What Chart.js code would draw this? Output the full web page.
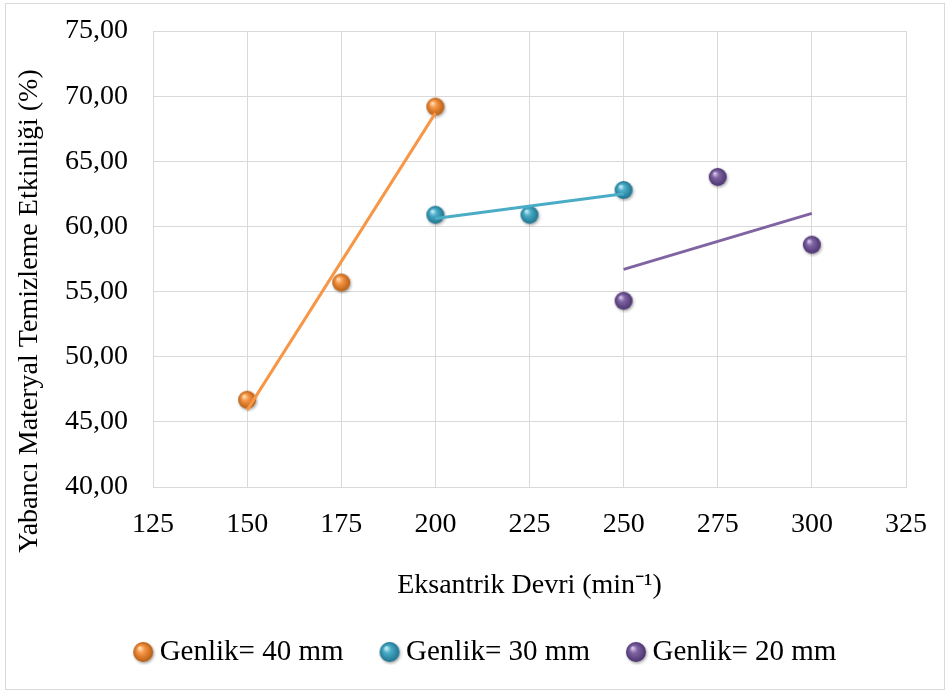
<!DOCTYPE html>
<html>
<head>
<meta charset="utf-8">
<style>
  html, body { margin: 0; padding: 0; background: #ffffff; }
  #wrap { position: relative; width: 950px; height: 693px; }
  #frame { position: absolute; left: 5px; top: 3px; width: 938px; height: 685px; border: 1px solid #d9d9d9; pointer-events: none; }
</style>
</head>
<body>
<div id="wrap">
  <canvas id="chart" width="950" height="693"></canvas>
  <div id="frame"></div>
</div>
<script src="https://cdn.jsdelivr.net/npm/chart.js"></script>
<script>
// data
const seriesNames = ['Genlik= 40 mm', 'Genlik= 30 mm', 'Genlik= 20 mm'];
const g40X = [150, 175, 200];
const g40Y = [46.7, 55.7, 69.2];
const g30X = [200, 225, 250];
const g30Y = [60.9, 60.9, 62.8];
const g20X = [250, 275, 300];
const g20Y = [54.3, 63.8, 58.6];

// trend line end points (as drawn in the reference)
const t40X = [150, 200];
const t40Y = [45.9, 68.7];
const t30X = [200, 250];
const t30Y = [60.6, 62.5];
const t20X = [250, 300];
const t20Y = [56.7, 61.0];

const xTicks = [125, 150, 175, 200, 225, 250, 275, 300, 325];
const yTicks = [40, 45, 50, 55, 60, 65, 70, 75];

const xTitle = 'Eksantrik Devri (min⁻¹)';
const yTitle = 'Yabancı Materyal Temizleme Etkinliği (%)';

const colors = ['#F79646', '#4BACC6', '#8064A2'];
const darkColors = ['#B85E12', '#1E7490', '#4B3470'];
const lightColors = ['#FFE2C0', '#C8F0FA', '#D8C8EE'];

function pts(xs, ys) { return xs.map((x, i) => ({ x: x, y: ys[i] })); }

// glossy sphere marker
function sphere(i, d) {
  const pad = 3;
  const c = document.createElement('canvas');
  c.width = d + pad * 2; c.height = d + pad * 2;
  const g = c.getContext('2d');
  const cx = c.width / 2, cy = c.height / 2, r = d / 2;
  g.save();
  g.shadowColor = 'rgba(0,0,0,0.35)';
  g.shadowBlur = 3;
  g.shadowOffsetX = 1;
  g.shadowOffsetY = 1.5;
  const grad = g.createRadialGradient(cx - r * 0.35, cy - r * 0.4, r * 0.05, cx, cy, r);
  grad.addColorStop(0, lightColors[i]);
  grad.addColorStop(0.35, colors[i]);
  grad.addColorStop(1, darkColors[i]);
  g.fillStyle = grad;
  g.beginPath(); g.arc(cx, cy, r, 0, Math.PI * 2); g.fill();
  g.restore();
  return c;
}

const markers = [0, 1, 2].map(i => sphere(i, 18));
const legendMarkers = [0, 1, 2].map(i => sphere(i, 20));

function fmt(v) { return v.toFixed(2).replace('.', ','); }

const pointSets = [pts(g40X, g40Y), pts(g30X, g30Y), pts(g20X, g20Y)];
const trendSets = [pts(t40X, t40Y), pts(t30X, t30Y), pts(t20X, t20Y)];

const datasets = [];
pointSets.forEach((d, i) => {
  datasets.push({
    label: seriesNames[i],
    data: d,
    showLine: false,
    pointStyle: markers[i],
    backgroundColor: colors[i],
    borderColor: colors[i],
    order: 2
  });
});
trendSets.forEach((d, i) => {
  datasets.push({
    label: 'trend' + i,
    data: d,
    showLine: true,
    pointRadius: 0,
    borderColor: colors[i],
    borderWidth: 3,
    fill: false,
    order: 1
  });
});

const serif = "'Liberation Serif', 'Times New Roman', serif";

// y title centred like the reference (not on the plot area),
// legend nudged right so the items sit where the reference has them
const extrasPlugin = {
  id: 'extras',
  afterLayout(chart) {
    chart.legend.left = 71.5;
  },
  afterDraw(chart) {
    const ctx = chart.ctx;
    ctx.save();
    ctx.translate(30, 311);
    ctx.rotate(-Math.PI / 2);
    ctx.font = '28px ' + serif;
    ctx.fillStyle = '#000000';
    ctx.textAlign = 'center';
    ctx.textBaseline = 'middle';
    ctx.fillText(yTitle, 0, 0);
    ctx.restore();
  }
};

new Chart(document.getElementById('chart'), {
  type: 'scatter',
  data: { datasets: datasets },
  plugins: [extrasPlugin],
  options: {
    responsive: false,
    animation: false,
    layout: { padding: { left: 14, right: 44, top: 31, bottom: 16.5 } },
    plugins: {
      tooltip: { enabled: false },
      legend: {
        position: 'bottom',
        labels: {
          color: '#000000',
          font: { family: serif, size: 29 },
          usePointStyle: true,
          padding: 44,
          boxWidth: 4,
          boxHeight: 20,
          generateLabels: chart => seriesNames.map((n, i) => ({
            text: n,
            datasetIndex: i,
            pointStyle: legendMarkers[i],
            fillStyle: colors[i],
            strokeStyle: colors[i],
            lineWidth: 0,
            fontColor: '#000000'
          }))
        }
      }
    },
    scales: {
      x: {
        type: 'linear',
        min: 125,
        max: 325,
        afterBuildTicks: s => { s.ticks = xTicks.map(v => ({ value: v })); },
        afterFit: s => { s.height = 106.5; },
        ticks: { color: '#000000', font: { family: serif, size: 28 }, padding: 21 },
        grid: { color: '#d9d9d9', lineWidth: 1, drawTicks: false },
        border: { color: '#d9d9d9' },
        title: {
          display: true,
          text: xTitle,
          color: '#000000',
          font: { family: serif, size: 28 },
          padding: { top: 0, bottom: -9 }
        }
      },
      y: {
        type: 'linear',
        min: 40,
        max: 75,
        afterBuildTicks: s => { s.ticks = yTicks.map(v => ({ value: v })); },
        afterFit: s => { s.width = 139; s.paddingTop = 0; s.paddingBottom = 0; },
        ticks: { color: '#000000', font: { family: serif, size: 28 }, padding: 25, callback: v => fmt(v) },
        grid: { color: '#d9d9d9', lineWidth: 1, drawTicks: false },
        border: { color: '#d9d9d9' }
      }
    }
  }
});
</script>
</body>
</html>
